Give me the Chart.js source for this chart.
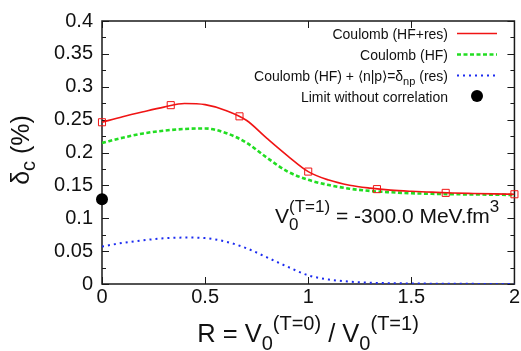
<!DOCTYPE html>
<html>
<head>
<meta charset="utf-8">
<script src="https://cdn.jsdelivr.net/npm/chart.js@4.4.1/dist/chart.umd.min.js"></script>
<style>
  html, body { margin: 0; padding: 0; background: #fff; }
  #plot { display: block; }
</style>
</head>
<body>
<canvas id="plot" width="521" height="351"></canvas>
<script>
// R = V0(T=0) / V0(T=1) sampling of the curves
const rValues = [0, 0.1, 0.2, 0.3, 0.4, 0.5, 0.6, 0.7, 0.8, 0.9, 1.0,
                 1.1, 1.2, 1.3, 1.4, 1.5, 1.6, 1.7, 1.8, 1.9, 2.0];

// delta_C (%) for each model
const hfResDelta = [0.2460, 0.2545, 0.2620, 0.2690, 0.2745, 0.2728, 0.2640, 0.2490, 0.2215, 0.1950, 0.1710,
                    0.1580, 0.1502, 0.1458, 0.1428, 0.1410, 0.1397, 0.1385, 0.1377, 0.1370, 0.1365];
const hfDelta = [0.2145, 0.2225, 0.2290, 0.2332, 0.2358, 0.2366, 0.2298, 0.2150, 0.1920, 0.1710, 0.1585,
                 0.1505, 0.1450, 0.1415, 0.1395, 0.1380, 0.1372, 0.1366, 0.1362, 0.1358, 0.1355];
const npDelta = [0.0570, 0.0625, 0.0665, 0.0695, 0.0706, 0.0698, 0.0645, 0.0545, 0.0405, 0.0262, 0.0132,
                 0.0068, 0.0036, 0.0020, 0.0012, 0.0008, 0.0005, 0.0003, 0.0002, 0.0001, 0.0001];

// computed points of the HF+res calculation
const markerR = [0, 0.3333, 0.6667, 1.0, 1.3333, 1.6667, 2.0];
const markerDelta = [0.246, 0.272, 0.255, 0.171, 0.1443, 0.1386, 0.1365];

// no-correlation limit
const limitR = [0];
const limitDelta = [0.129];

const xTicks = [0, 0.5, 1, 1.5, 2];
const yTicks = [0, 0.05, 0.1, 0.15, 0.2, 0.25, 0.3, 0.35, 0.4];

const FONT = '"Liberation Sans", Arial, Helvetica, sans-serif';

function xy(xs, ys) {
  return xs.map((x, i) => ({ x, y: ys[i] }));
}

// text runs: [string, size, baseline shift, stack]
// a run with stack=true shares its x with the next run (sub over sup)
function drawRich(ctx, parts, x, y, align) {
  const widths = parts.map(([t, size]) => {
    ctx.font = `${size}px ${FONT}`;
    return ctx.measureText(t).width;
  });
  const advances = parts.map((p, i) => {
    if (p[3]) return 0;
    if (i > 0 && parts[i - 1][3]) return Math.max(widths[i], widths[i - 1]);
    return widths[i];
  });
  const width = advances.reduce((s, w) => s + w, 0);
  let cx = align === 'center' ? x - width / 2 : align === 'right' ? x - width : x;
  ctx.textAlign = 'left';
  ctx.textBaseline = 'alphabetic';
  parts.forEach(([t, size, dy], i) => {
    ctx.font = `${size}px ${FONT}`;
    ctx.fillText(t, cx, y + (dy || 0));
    cx += advances[i];
  });
}

const framePlugin = {
  id: 'frame',
  beforeDatasetsDraw(chart) {
    const { ctx, chartArea: a, scales } = chart;
    ctx.save();
    ctx.strokeStyle = '#1a1a1a';
    ctx.lineWidth = 1.5;
    ctx.strokeRect(a.left, a.top, a.right - a.left, a.bottom - a.top);
    ctx.lineWidth = 1;
    ctx.beginPath();
    xTicks.forEach((v) => {
      const px = Math.round(scales.x.getPixelForValue(v)) + 0.5;
      ctx.moveTo(px, a.bottom); ctx.lineTo(px, a.bottom - 7);
      ctx.moveTo(px, a.top); ctx.lineTo(px, a.top + 7);
    });
    yTicks.forEach((v, i) => {
      const py = Math.round(scales.y.getPixelForValue(v)) + 0.5;
      ctx.moveTo(a.left, py); ctx.lineTo(a.left + 7, py);
      ctx.moveTo(a.right, py); ctx.lineTo(a.right - 7, py);
      if (i < yTicks.length - 1) {
        const pm = Math.round(scales.y.getPixelForValue((v + yTicks[i + 1]) / 2)) + 0.5;
        ctx.moveTo(a.left, pm); ctx.lineTo(a.left + 4, pm);
        ctx.moveTo(a.right, pm); ctx.lineTo(a.right - 4, pm);
      }
    });
    ctx.stroke();
    ctx.restore();
  },
  afterDraw(chart) {
    const { ctx } = chart;
    const ds = chart.data.datasets;
    ctx.save();
    ctx.fillStyle = '#111';

    // legend, top right
    const textRight = 448, sx0 = 457, sx1 = 497;
    const rows = [
      { parts: [['Coulomb (HF+res)', 14]], ds: ds[0], y: 39 },
      { parts: [['Coulomb (HF)', 14]], ds: ds[2], y: 60 },
      { parts: [['Coulomb (HF) + \u27e8n|p\u27e9=\u03b4', 14], ['np', 11, 4], [' (res)', 14]], ds: ds[3], y: 81 },
      { parts: [['Limit without correlation', 14]], ds: ds[4], y: 102 },
    ];
    rows.forEach((row) => {
      ctx.fillStyle = '#111';
      drawRich(ctx, row.parts, textRight, row.y, 'right');
      const my = row.y - 5.5;
      if (row.ds.showLine === false) {
        ctx.beginPath();
        ctx.fillStyle = row.ds.backgroundColor;
        ctx.arc((sx0 + sx1) / 2, my - 0.5, row.ds.pointRadius, 0, Math.PI * 2);
        ctx.fill();
      } else {
        ctx.beginPath();
        ctx.strokeStyle = row.ds.borderColor;
        ctx.lineWidth = row.ds.borderWidth;
        ctx.setLineDash(row.ds.borderDash || []);
        ctx.moveTo(sx0, my); ctx.lineTo(sx1, my);
        ctx.stroke();
        ctx.setLineDash([]);
      }
    });

    // interaction strength label
    ctx.fillStyle = '#111';
    drawRich(ctx, [['V', 21], ['0', 17, 7, true], ['(T=1)', 17, -11],
                   [' = -300.0 MeV.fm', 21], ['3', 17, -11]], 275, 223, 'left');

    // axis titles
    drawRich(ctx, [['R = V', 25.5], ['0', 20, 8], ['(T=0)', 20, -12], [' / V', 25.5],
                   ['0', 20, 8], ['(T=1)', 20, -12]], 308, 342, 'center');
    ctx.translate(29, 150);
    ctx.rotate(-Math.PI / 2);
    drawRich(ctx, [['\u03b4', 25], ['c', 20, 6], [' (%)', 25]], 0, 0, 'center');
    ctx.restore();
  },
};

new Chart(document.getElementById('plot'), {
  type: 'line',
  data: {
    datasets: [
      {
        label: 'Coulomb (HF+res)',
        data: xy(rValues, hfResDelta),
        borderColor: '#f01414',
        borderWidth: 1.6,
        pointRadius: 0,
        cubicInterpolationMode: 'monotone',
        fill: false,
      },
      {
        label: 'Coulomb (HF+res) points',
        data: xy(markerR, markerDelta),
        showLine: false,
        pointStyle: 'rect',
        pointRadius: 5,
        borderColor: '#f01414',
        backgroundColor: 'rgba(0,0,0,0)',
        borderWidth: 1,
        clip: false,
      },
      {
        label: 'Coulomb (HF)',
        data: xy(rValues, hfDelta),
        borderColor: '#22dd22',
        borderWidth: 2.6,
        borderDash: [4, 2.5],
        pointRadius: 0,
        cubicInterpolationMode: 'monotone',
        fill: false,
      },
      {
        label: 'Coulomb (HF) + <n|p>=delta_np (res)',
        data: xy(rValues, npDelta),
        borderColor: '#1c2cf0',
        borderWidth: 2,
        borderDash: [2, 4],
        pointRadius: 0,
        cubicInterpolationMode: 'monotone',
        fill: false,
      },
      {
        label: 'Limit without correlation',
        data: xy(limitR, limitDelta),
        showLine: false,
        pointStyle: 'circle',
        pointRadius: 6,
        borderWidth: 0,
        backgroundColor: '#000',
        borderColor: '#000',
        clip: false,
      },
    ],
  },
  options: {
    responsive: false,
    devicePixelRatio: 1,
    animation: false,
    events: [],
    layout: { padding: { left: 0, right: 6, top: 16, bottom: 0 } },
    plugins: {
      legend: { display: false },
      tooltip: { enabled: false },
    },
    scales: {
      x: {
        type: 'linear',
        min: 0,
        max: 2,
        grid: { display: false, drawTicks: false },
        border: { display: false },
        afterBuildTicks: (scale) => { scale.ticks = xTicks.map((value) => ({ value })); },
        afterFit: (scale) => { scale.height = 67; },
        ticks: {
          padding: 1,
          color: '#111',
          font: { family: FONT, size: 20 },
          maxRotation: 0,
          callback: (v) => String(v),
        },
      },
      y: {
        min: 0,
        max: 0.4,
        grid: { display: false, drawTicks: false },
        border: { display: false },
        afterBuildTicks: (scale) => { scale.ticks = yTicks.map((value) => ({ value })); },
        afterFit: (scale) => { scale.width = 102; },
        ticks: {
          padding: 9,
          color: '#111',
          font: { family: FONT, size: 20 },
          callback: (v) => String(v),
        },
      },
    },
  },
  plugins: [framePlugin],
});
</script>
</body>
</html>
